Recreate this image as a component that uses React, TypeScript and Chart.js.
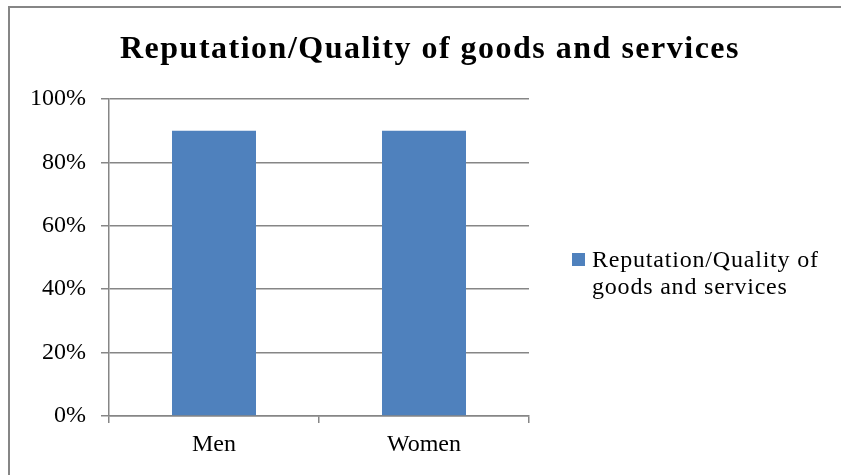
import React, { useEffect, useRef } from "react";
import { Chart, registerables } from "chart.js";

Chart.register(...registerables);

const categories = ["Men", "Women"];
const seriesLabel = "Reputation/Quality of goods and services";
const seriesValues = [90, 90];
const titleText = "Reputation/Quality of goods and services";
const yTicks = [0, 20, 40, 60, 80, 100];

const BAR = "#4F81BD";
const GRID = "#868686";
const FONT = "'Liberation Serif', 'Times New Roman', serif";

const overlayPlugin = {
  id: "overlay",
  afterDraw(chart: any) {
    const ctx = chart.ctx;
    ctx.save();
    // title
    ctx.fillStyle = "#000";
    ctx.font = `bold 32px ${FONT}`;
    (ctx as any).letterSpacing = "1.5px";
    ctx.textAlign = "center";
    ctx.textBaseline = "alphabetic";
    ctx.fillText(titleText, 430, 58);
    // legend
    ctx.fillStyle = BAR;
    ctx.fillRect(572, 253, 13, 13);
    ctx.fillStyle = "#000";
    ctx.font = `24px ${FONT}`;
    (ctx as any).letterSpacing = "0.8px";
    ctx.textAlign = "left";
    const words = seriesLabel.split(" ");
    const lines: string[] = [];
    let cur = "";
    for (const w of words) {
      const t = cur ? cur + " " + w : w;
      if (ctx.measureText(t).width > 240 && cur) {
        lines.push(cur);
        cur = w;
      } else cur = t;
    }
    if (cur) lines.push(cur);
    lines.forEach((l, i) => ctx.fillText(l, 592, 267 + i * 27));
    ctx.restore();
  },
};

export default function App() {
  const ref = useRef<HTMLCanvasElement | null>(null);
  useEffect(() => {
    if (!ref.current) return;
    const chart = new Chart(ref.current, {
      type: "bar",
      data: {
        labels: categories,
        datasets: [
          {
            label: seriesLabel,
            data: seriesValues,
            backgroundColor: BAR,
            borderWidth: 0,
            barPercentage: 0.4,
            categoryPercentage: 1,
          },
        ],
      },
      options: {
        responsive: false,
        animation: false,
        layout: { padding: { left: 0, right: 312, top: 99, bottom: 0 } },
        plugins: {
          legend: { display: false },
          title: { display: false },
          tooltip: { enabled: false },
        },
        scales: {
          x: {
            offset: true,
            grid: {
              offset: true,
              drawOnChartArea: false,
              drawTicks: true,
              tickLength: 7,
              color: GRID,
              lineWidth: 1.5,
            },
            border: { color: GRID, width: 1.5 },
            ticks: {
              color: "#000",
              font: { family: FONT, size: 24 },
              padding: 7,
            },
            afterFit(scale: any) {
              scale.height = 59;
            },
          },
          y: {
            min: 0,
            max: 100,
            afterBuildTicks(scale: any) {
              scale.ticks = yTicks.map((v) => ({ value: v }));
            },
            grid: {
              color: GRID,
              lineWidth: 1.5,
              drawTicks: true,
              tickLength: 8,
            },
            border: { color: GRID, width: 1.5 },
            ticks: {
              color: "#000",
              font: { family: FONT, size: 24 },
              padding: 15,
              callback: (v: any) => `${v}%`,
            },
            afterFit(scale: any) {
              scale.width = 109;
            },
          },
        },
      },
      plugins: [overlayPlugin],
    });
    return () => chart.destroy();
  }, []);
  return (
    <div style={{ position: "fixed", left: 0, top: 0, width: 841, height: 475, background: "#fff", overflow: "hidden" }}>
      <div
        style={{
          position: "absolute",
          left: 8,
          top: 6,
          width: 860,
          height: 500,
          border: `2px solid ${GRID}`,
          boxSizing: "border-box",
        }}
      />
      <canvas ref={ref} width={841} height={475} style={{ position: "absolute", left: 0, top: 0, width: 841, height: 475 }} />
    </div>
  );
}
